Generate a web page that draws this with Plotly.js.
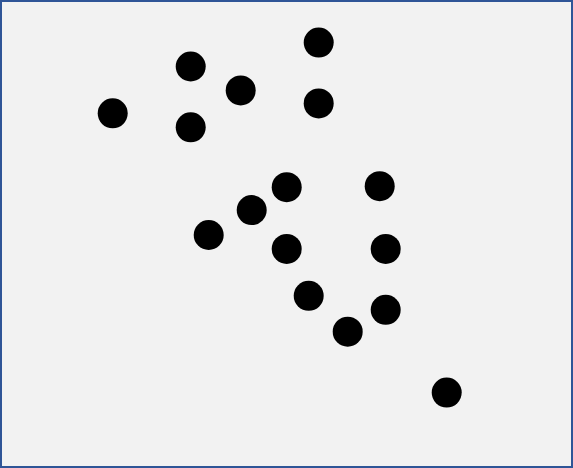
<!DOCTYPE html>
<html><head><meta charset="utf-8">
<script src="https://cdn.plot.ly/plotly-3.0.1.min.js"></script>
<style>html,body{margin:0;padding:0;background:#f2f2f2;}#chart{width:573px;height:468px;}</style>
</head><body><div id="chart"></div>
<script>
var xValues = [318, 190, 240, 112, 318, 190, 286, 379, 251, 208, 286, 385, 308, 385, 347, 446];
var yValues = [42, 66, 90, 113, 103, 127, 187, 186, 210, 235, 249, 249, 296, 310, 332, 393];

Plotly.newPlot('chart', [{
  type: 'scatter', mode: 'markers',
  x: xValues, y: yValues,
  marker: {size: 30, color: '#000000', line: {width: 0}},
  hoverinfo: 'none'
}], {
  width: 573, height: 468,
  margin: {l: 0, r: 0, t: 0, b: 0, pad: 0},
  paper_bgcolor: '#f2f2f2', plot_bgcolor: '#f2f2f2',
  showlegend: false,
  xaxis: {range: [-0.7, 572.3], visible: false, fixedrange: true},
  yaxis: {range: [468.7, 0.7 - 1.4], visible: false, fixedrange: true},
  shapes: [{type: 'rect', xref: 'paper', yref: 'paper', x0: 0, y0: 0, x1: 1, y1: 1,
    line: {color: '#2f5597', width: 4}, fillcolor: 'rgba(0,0,0,0)'}]
}, {displayModeBar: false, staticPlot: true});
</script></body></html>
